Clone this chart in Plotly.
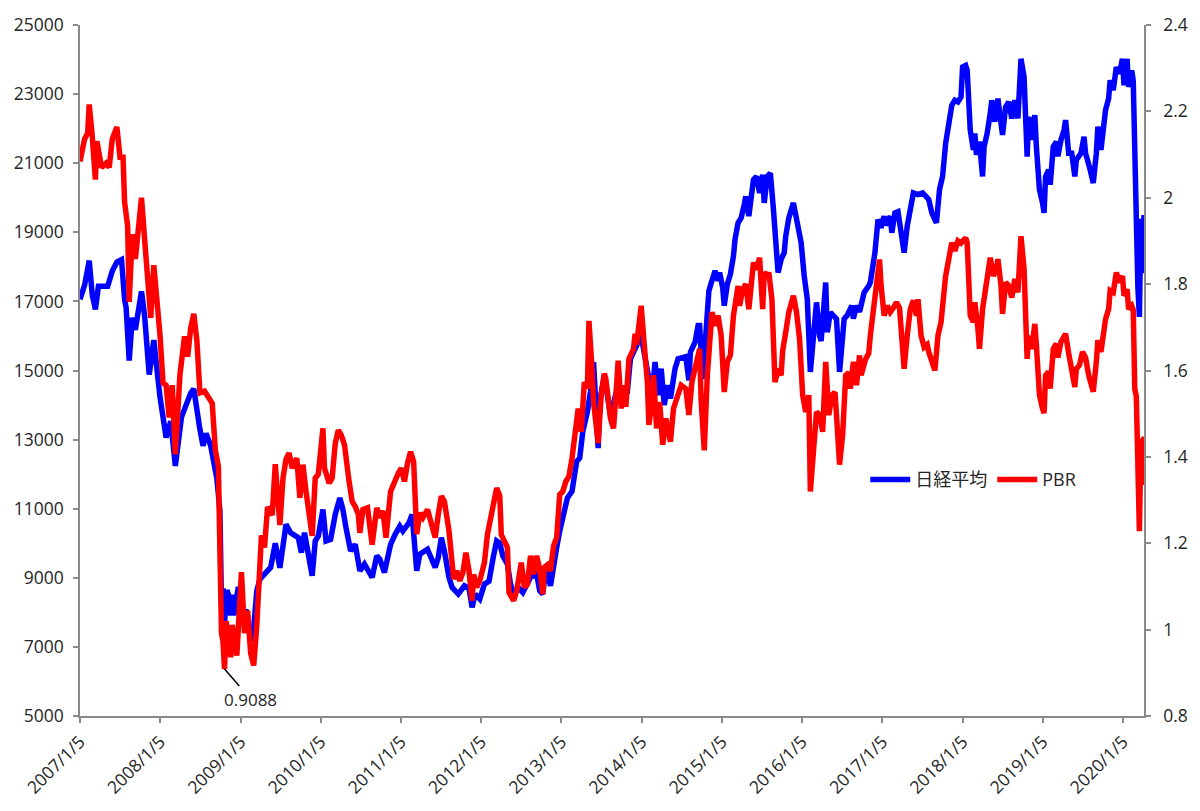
import numpy as np
import pandas as pd
import plotly.graph_objects as go

START = "2007-01-05"  # first weekly observation (Friday)

# (week index since START, 日経平均 weekly close)
nikkei_pts = [
    (0,17060),(3,17470),(6,18180),(8,17180),(10,16770),(12,17440),(18,17440),(21,17880),(24,18140),
    (27,18210),(29,17060),(30,16820),(32,15290),(34,16530),(36,16180),(40,17290),(42,16590),(45,14880),
    (48,15880),(50,14940),(52,14240),(56,13060),(59,13530),(62,12240),(66,13650),(72,14350),(74,14470),
    (78,13290),(80,12820),(82,13180),(85,12820),(89,11880),(91,10938),(92,8276),(93,8693),(94,7649),
    (95,8577),(96,8583),(97,8462),(98,7910),(99,8512),(100,7917),(101,8235),(102,8588),(103,8739),
    (105,8230),(106,7745),(107,7994),(108,8076),(109,7779),(110,7416),(111,7568),(112,7173),(113,7569),
    (114,7945),(115,8626),(117,8964),(121,9180),(124,9300),(127,10000),(130,9290),(134,10545),(137,10304),
    (142,10160),(144,9728),(146,10304),(148,9728),(151,9058),(153,10065),(155,10209),(158,10977),(160,10065),
    (163,10113),(166,10833),(169,11311),(171,10977),(173,10448),(176,9777),(179,9969),(182,9201),(185,9393),
    (190,9009),(193,9633),(195,9538),(198,9153),(202,9969),(205,10257),(208,10497),(210,10353),(214,10593),
    (216,10833),(219,9201),(221,9682),(226,9826),(231,9297),(233,9584),(235,10160),(237,9777),(240,9009),
    (242,8721),(246,8530),(250,8770),(253,8700),(255,8146),(257,8530),(260,8386),(263,8818),(266,8900),
    (269,9650),(271,10065),(273,10000),(275,9633),(278,9393),(280,8818),(282,8530),(285,8722),(288,8578),
    (293,9010),(297,9106),(299,8626),(301,8530),(303,9298),(306,8770),(308,9393),(310,9873),(312,10353),
    (315,11024),(317,11312),(320,11504),(323,12367),(325,12463),(327,13230),(330,13806),(332,14382),
    (334,15245),(336,13326),(337,12751),(338,14094),(341,14861),(343,14286),(345,13710),(350,14573),
    (352,14400),(356,14400),(358,15341),(361,15628),(363,15820),(365,16012),(368,15245),(370,14669),
    (372,14286),(374,15245),(376,14286),(378,15053),(380,13998),(382,14573),(384,14190),(387,15053),
    (389,15341),(394,15400),(396,14717),(397,15533),(400,15820),(402,16300),(403,16300),(405,14750),
    (407,16300),(409,17300),(410,17452),(413,17883),(415,17600),(416,17835),(418,17400),(419,16876),
    (421,17500),(423,17787),(425,18315),(426,18794),(428,19274),(430,19418),(432,19802),(433,20041),
    (435,19466),(438,20521),(440,20617),(442,20137),(444,20665),(445,19850),(447,20617),(449,20713),
    (451,19658),(453,18315),(454,17835),(456,18219),(458,18410),(459,18890),(461,19418),(464,19850),
    (466,19370),(468,18890),(469,18700),(471,17739),(473,17068),(475,14958),(477,16204),(479,16972),
    (481,16012),(482,15850),(485,17548),(486,16108),(488,16684),(490,16600),(492,16492),(494,14958),
    (497,16492),(499,16600),(502,16876),(503,16500),(505,16876),(507,16700),(510,17260),(513,17452),
    (514,17550),(517,18410),(519,19370),(521,19130),(523,19466),(524,19200),(527,19466),(528,18986),
    (530,19562),(532,19600),(534,19100),(536,18410),(538,19178),(540,19700),(542,20138),(545,20090),
    (548,20138),(550,20050),(552,19946),(554,19562),(556,19418),(557,19274),(559,20234),(561,20617),
    (563,21577),(566,22632),(567,22679),(569,22823),(571,22775),(573,22920),(574,23783),(576,23831),
    (577,23687),(579,21960),(581,21385),(582,21864),(583,21241),(585,21625),(587,20617),(588,21481),
    (590,21864),(592,22440),(593,22823),(595,22200),(597,22871),(600,21816),(602,22632),(604,22775),
    (606,22296),(608,22823),(610,22296),(612,24022),(614,23495),(616,21193),(617,22344),(619,21672),
    (621,22392),(622,21481),(624,20234),(626,19850),(627,19562),(628,20617),(630,20809),(631,20378),
    (633,21481),(635,21625),(636,21200),(638,21672),(640,21960),(641,22248),(643,21289),(645,21289),
    (647,20617),(648,21097),(651,21289),(653,21768),(654,21289),(657,20809),(659,20425),(661,21289),
    (662,22056),(664,21385),(667,22536),(669,22871),(670,23399),(672,23111),(674,23783),(676,23591),
    (678,24022),(679,23255),(681,24022),(682,23207),(684,23687),(685,23387),(686,21143),(687,20750),
    (688,17431),(689,16552),(690,19389),(691,17820),(692,19498),
]

# (week index since START, PBR)
pbr_pts = [
    (0,2.084),(3,2.136),(5,2.150),(6,2.216),(8,2.141),(10,2.042),(11,2.131),(14,2.070),(17,2.080),
    (19,2.070),(21,2.136),(23,2.150),(24,2.164),(26,2.094),(28,2.094),(29,1.990),(31,1.934),(32,1.759),
    (34,1.915),(36,1.858),(38,1.924),(40,2.000),(42,1.905),(44,1.811),(46,1.722),(48,1.844),(50,1.769),
    (52,1.684),(54,1.571),(56,1.566),(58,1.491),(60,1.566),(62,1.406),(65,1.590),(68,1.679),(70,1.632),
    (72,1.698),(74,1.731),(76,1.670),(78,1.548),(81,1.552),(83,1.538),(86,1.524),(88,1.416),(90,1.378),
    (92,0.992),(93,0.973),(94,0.9088),(95,1.020),(98,0.936),(99,1.011),(102,0.940),(105,1.133),(107,0.992),
    (109,1.044),(111,0.945),(113,0.917),(115,1.011),(117,1.199),(118,1.218),(120,1.190),(122,1.284),
    (125,1.265),(127,1.383),(130,1.242),(132,1.350),(134,1.395),(136,1.409),(138,1.374),(139,1.380),
    (141,1.397),(143,1.305),(145,1.382),(147,1.320),(151,1.217),(153,1.351),(155,1.360),(158,1.466),
    (159,1.374),(162,1.339),(164,1.351),(166,1.431),(168,1.462),(170,1.450),(172,1.428),(175,1.343),
    (177,1.297),(179,1.285),(181,1.267),(182,1.224),(184,1.278),(187,1.282),(190,1.197),(193,1.282),
    (195,1.259),(197,1.275),(199,1.213),(202,1.320),(205,1.351),(207,1.362),(209,1.374),(211,1.343),
    (213,1.385),(215,1.412),(217,1.389),(219,1.221),(221,1.270),(223,1.259),(226,1.278),(228,1.252),
    (231,1.213),(233,1.267),(235,1.309),(237,1.297),(240,1.228),(242,1.155),(243,1.117),(245,1.136),
    (247,1.113),(249,1.132),(251,1.178),(253,1.136),(255,1.067),(256,1.128),(258,1.098),(260,1.113),
    (263,1.155),(265,1.221),(269,1.290),(271,1.328),(273,1.310),(274,1.220),(276,1.205),(278,1.190),
    (279,1.086),(282,1.067),(284,1.090),(287,1.155),(289,1.098),(291,1.105),(293,1.171),(295,1.128),
    (297,1.171),(299,1.140),(301,1.082),(302,1.144),(304,1.150),(306,1.136),(308,1.194),(310,1.213),
    (312,1.313),(314,1.320),(316,1.343),(318,1.355),(320,1.397),(323,1.504),(324,1.512),(326,1.458),
    (328,1.573),(330,1.558),(331,1.715),(333,1.604),(334,1.527),(337,1.432),(339,1.543),(341,1.593),
    (342,1.580),(345,1.489),(347,1.466),(349,1.566),(350,1.623),(352,1.512),(353,1.566),(355,1.516),
    (357,1.627),(360,1.650),(361,1.685),(362,1.660),(364,1.731),(365,1.750),(367,1.658),(369,1.574),
    (370,1.474),(372,1.527),(373,1.589),(375,1.466),(377,1.527),(379,1.428),(381,1.489),(384,1.435),
    (386,1.512),(388,1.535),(391,1.566),(394,1.558),(396,1.497),(398,1.574),(400,1.604),(403,1.650),
    (404,1.530),(406,1.415),(408,1.589),(410,1.700),(411,1.735),(413,1.704),(415,1.727),(417,1.681),
    (419,1.550),(421,1.620),(423,1.635),(425,1.727),(428,1.796),(429,1.750),(431,1.788),(433,1.800),
    (435,1.742),(438,1.850),(440,1.834),(442,1.861),(444,1.742),(445,1.827),(447,1.820),(448,1.827),
    (450,1.765),(452,1.573),(454,1.604),(456,1.589),(457,1.646),(459,1.689),(461,1.735),(464,1.773),
    (466,1.735),(468,1.673),(470,1.543),(472,1.504),(474,1.543),(475,1.320),(477,1.435),(479,1.504),
    (481,1.497),(483,1.458),(485,1.620),(487,1.497),(489,1.543),(491,1.550),(492,1.497),(494,1.382),
    (496,1.451),(498,1.589),(500,1.595),(501,1.558),(503,1.620),(505,1.566),(507,1.635),(508,1.589),
    (511,1.627),(513,1.640),(514,1.681),(517,1.773),(518,1.819),(520,1.857),(521,1.796),(523,1.727),
    (525,1.750),(527,1.735),(529,1.745),(531,1.758),(533,1.745),(535,1.658),(536,1.604),(538,1.681),
    (540,1.742),(542,1.762),(544,1.727),(545,1.765),(547,1.681),(549,1.654),(551,1.660),(552,1.643),
    (554,1.620),(556,1.600),(558,1.681),(560,1.712),(563,1.819),(566,1.888),(567,1.896),(569,1.877),
    (571,1.900),(573,1.895),(576,1.907),(577,1.896),(579,1.727),(581,1.712),(582,1.758),(584,1.696),
    (585,1.650),(587,1.742),(589,1.789),(591,1.827),(592,1.861),(594,1.819),(596,1.835),(597,1.858),
    (599,1.796),(600,1.731),(602,1.804),(604,1.796),(606,1.769),(608,1.812),(610,1.781),(612,1.911),
    (614,1.835),(616,1.627),(617,1.681),(619,1.650),(621,1.708),(622,1.660),(624,1.543),(626,1.512),
    (627,1.501),(628,1.589),(630,1.597),(631,1.558),(633,1.650),(635,1.662),(636,1.630),(638,1.666),
    (640,1.681),(641,1.685),(643,1.640),(645,1.600),(647,1.562),(648,1.604),(650,1.612),(652,1.643),
    (654,1.630),(656,1.589),(659,1.551),(661,1.620),(662,1.670),(664,1.643),(667,1.719),(669,1.742),
    (670,1.785),(672,1.781),(674,1.827),(676,1.804),(678,1.819),(679,1.773),(681,1.788),(682,1.742),
    (684,1.750),(685,1.740),(686,1.558),(687,1.540),(688,1.359),(689,1.228),(690,1.443),(691,1.335),
    (692,1.447),
]

tick_years = list(range(2007, 2021))
x_tick_vals = [f"{y}-01-05" for y in tick_years]
x_tick_text = [f"{y}/1/5" for y in tick_years]
y1_ticks = list(range(5000, 25001, 2000))
y1_text = [str(v) for v in y1_ticks]
y2_ticks = [0.8, 1.0, 1.2, 1.4, 1.6, 1.8, 2.0, 2.2, 2.4]
y2_text = ["0.8", "1", "1.2", "1.4", "1.6", "1.8", "2", "2.2", "2.4"]


def to_dates(weeks):
    return pd.Timestamp(START) + pd.to_timedelta(np.asarray(weeks) * 7, unit="D")


n_weeks, n_vals = zip(*nikkei_pts)
p_weeks, p_vals = zip(*pbr_pts)
n_dates = to_dates(n_weeks)
p_dates = to_dates(p_weeks)

FONT = "Open Sans, Noto Sans CJK JP, sans-serif"
AXIS_COL = "#8a8a8a"
TXT_COL = "#262626"

fig = go.Figure()
fig.add_trace(go.Scatter(x=n_dates, y=n_vals, mode="lines", name="日経平均",
                         line=dict(color="#0000FF", width=5.5), yaxis="y"))
fig.add_trace(go.Scatter(x=p_dates, y=p_vals, mode="lines", name="PBR",
                         line=dict(color="#FF0000", width=5.5), yaxis="y2"))

i_min = int(np.argmin(p_vals))
fig.add_annotation(x=p_dates[i_min], y=p_vals[i_min], xref="x", yref="y2",
                   text=f"{p_vals[i_min]:.4f}", showarrow=True, arrowhead=0,
                   arrowwidth=1.5, arrowcolor="#000000", ax=26, ay=30,
                   font=dict(family=FONT, size=17, color=TXT_COL))

axis_common = dict(showgrid=False, zeroline=False, showline=True, linecolor=AXIS_COL,
                   linewidth=1.5, ticks="outside", ticklen=5, tickcolor=AXIS_COL, tickwidth=1.5,
                   tickfont=dict(family=FONT, size=17.5, color=TXT_COL))

fig.update_layout(
    width=1200, height=811,
    margin=dict(l=80, r=55, t=21, b=95),
    paper_bgcolor="white", plot_bgcolor="white",
    font=dict(family=FONT, color=TXT_COL),
    xaxis=dict(type="date", range=[pd.Timestamp(START), n_dates[-1]],
               tickmode="array", tickvals=x_tick_vals, ticktext=x_tick_text,
               tickangle=-45, ticklabelstandoff=2, **axis_common),
    yaxis=dict(range=[5000, 25000], tickmode="array", tickvals=y1_ticks, ticktext=y1_text,
               ticklabelstandoff=6, **axis_common),
    yaxis2=dict(range=[0.8, 2.4], overlaying="y", side="right", tickmode="array",
                tickvals=y2_ticks, ticktext=y2_text, ticklabelstandoff=9, **axis_common),
    legend=dict(orientation="h", x=0.738, y=0.342, xanchor="left", yanchor="middle",
                font=dict(family=FONT, size=18, color=TXT_COL), bgcolor="rgba(0,0,0,0)",
                itemwidth=40),
    showlegend=True,
)

fig.write_html("out.html")
